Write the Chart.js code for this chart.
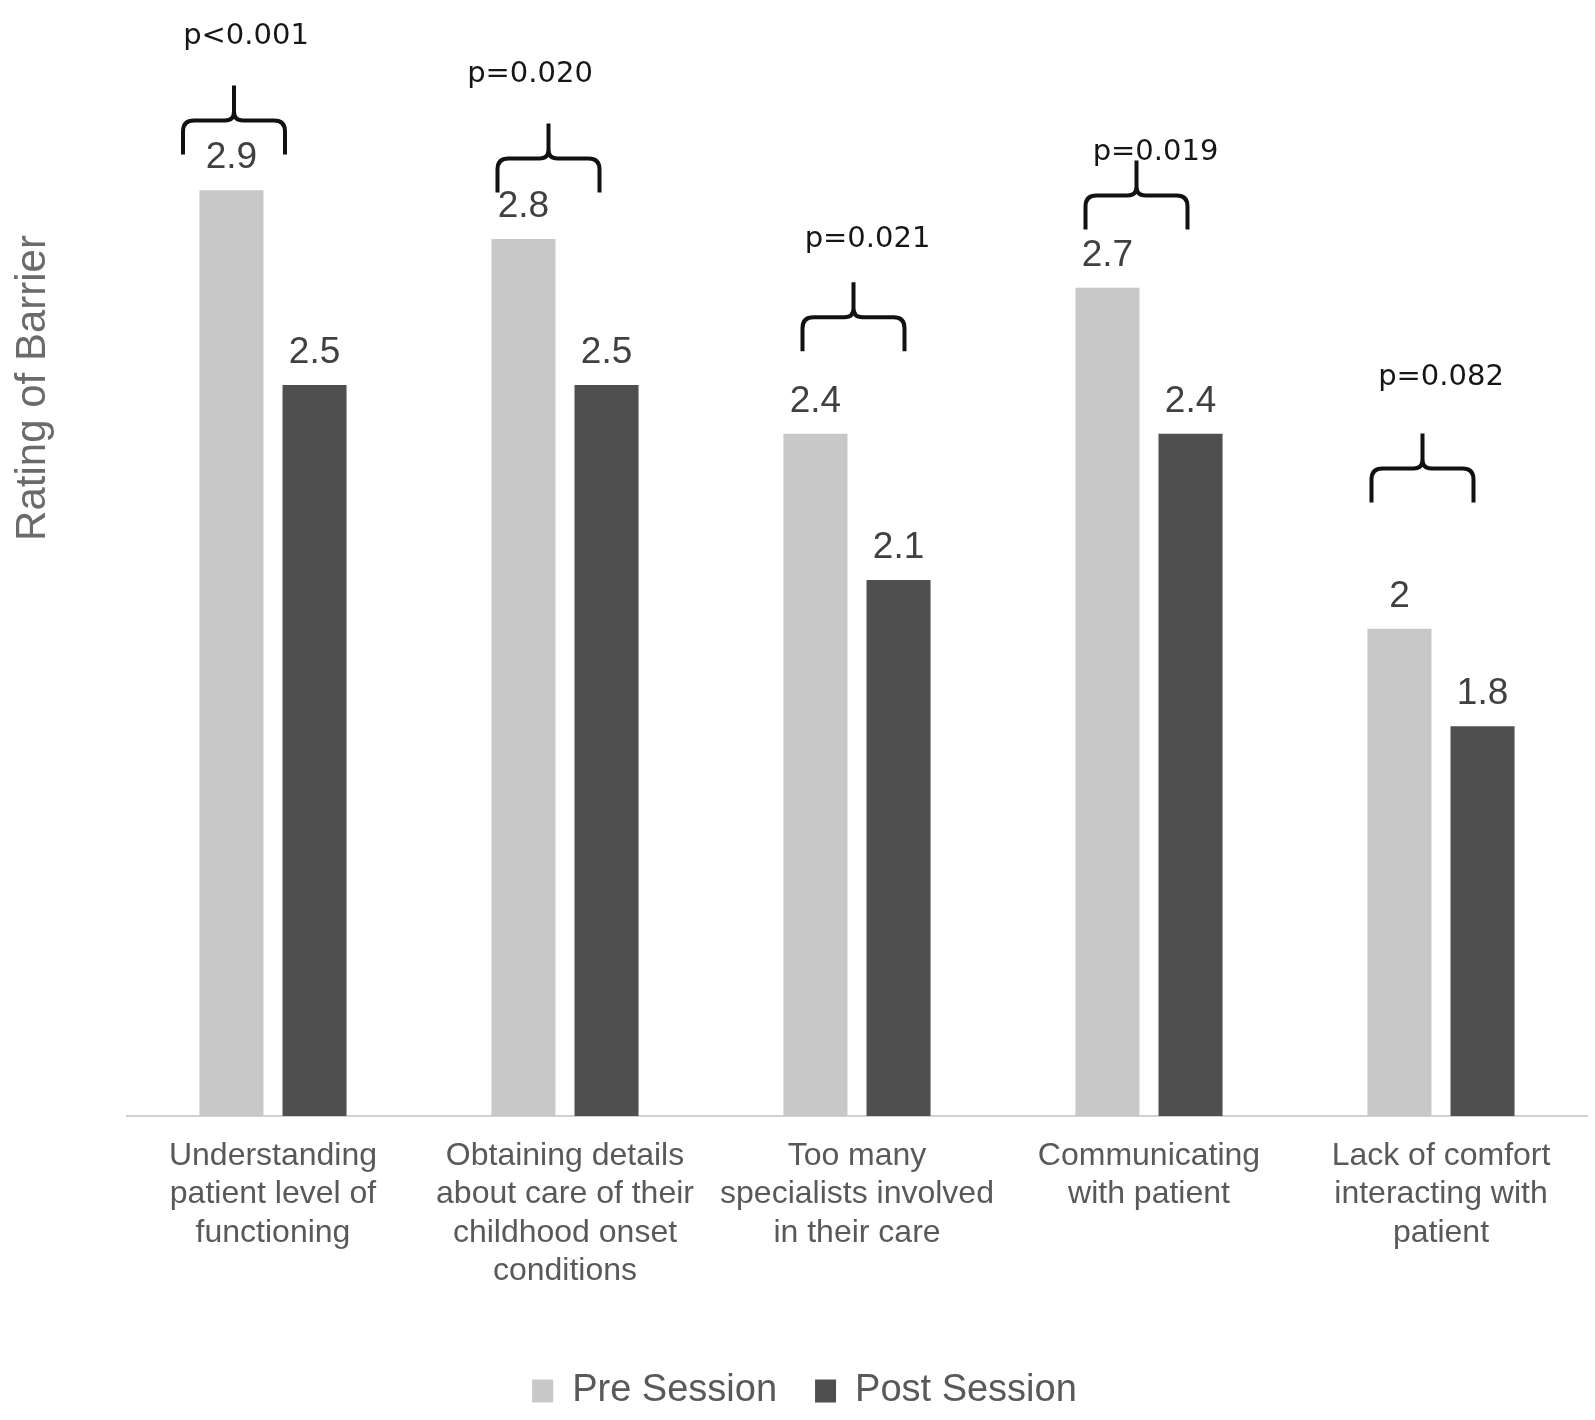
<!DOCTYPE html>
<html>
<head>
<meta charset="utf-8">
<script src="https://cdn.jsdelivr.net/npm/chart.js@4.4.1/dist/chart.umd.min.js"></script>
<style>
html,body{margin:0;padding:0;background:#ffffff;}
#wrap{width:1595px;height:1420px;position:relative;}
</style>
</head>
<body>
<div id="wrap"><canvas id="c"></canvas></div>
<script>
// ---- data ----
const categories = [
  ["Understanding", "patient level of", "functioning"],
  ["Obtaining details", "about care of their", "childhood onset", "conditions"],
  ["Too many", "specialists involved", "in their care"],
  ["Communicating", "with patient"],
  ["Lack of comfort", "interacting with", "patient"]
];
const seriesNames = ["Pre Session", "Post Session"];
const preSession = [2.9, 2.8, 2.4, 2.7, 2];
const postSession = [2.5, 2.5, 2.1, 2.4, 1.8];
const pValues = ["p<0.001", "p=0.020", "p=0.021", "p=0.019", "p=0.082"];
const yAxisTitle = "Rating of Barrier";

// ---- annotation layout (levels in axis units, offsets in px from category centre) ----
const annotationLayout = {
  braceLevel: [3.043, 2.965, 2.639, 2.889, 2.329],
  braceDx: [-39, -16.5, -3.5, -12.5, -18.5],
  textLevel: [3.201, 3.121, 2.783, 2.961, 2.50],
  textDx: [-27, -35, 10.5, 6.5, 0]
};

const FONT = '"Liberation Sans", Arial, Helvetica, sans-serif';

const annotPlugin = {
  id: 'annot',
  afterDatasetsDraw(chart) {
    const ctx = chart.ctx;
    const xs = chart.scales.x, ys = chart.scales.y;
    ctx.save();
    // value labels above bars
    ctx.font = '37px ' + FONT;
    ctx.fillStyle = '#404040';
    ctx.textAlign = 'center';
    ctx.textBaseline = 'alphabetic';
    chart.data.datasets.forEach((ds, di) => {
      chart.getDatasetMeta(di).data.forEach((bar, i) => {
        ctx.fillText(String(ds.data[i]), bar.x, bar.y - 22);
      });
    });
    // braces + p values
    const L = annotationLayout;
    ctx.strokeStyle = '#111111';
    ctx.lineWidth = 4;
    ctx.lineJoin = 'round';
    ctx.lineCap = 'butt';
    pValues.forEach((p, i) => {
      const c = xs.getPixelForValue(i);
      const cx = c + L.braceDx[i];
      const hy = ys.getPixelForValue(L.braceLevel[i]);
      const half = 51, drop = 34, rise = 35, r = 11, m = 9;
      ctx.beginPath();
      ctx.moveTo(cx - half, hy + drop);
      ctx.lineTo(cx - half, hy + r);
      ctx.quadraticCurveTo(cx - half, hy, cx - half + r, hy);
      ctx.lineTo(cx - m, hy);
      ctx.quadraticCurveTo(cx, hy, cx, hy - m);
      ctx.lineTo(cx, hy - rise);
      ctx.moveTo(cx, hy - m);
      ctx.quadraticCurveTo(cx, hy, cx + m, hy);
      ctx.lineTo(cx + half - r, hy);
      ctx.quadraticCurveTo(cx + half, hy, cx + half, hy + r);
      ctx.lineTo(cx + half, hy + drop);
      ctx.stroke();
      ctx.font = '29px "DejaVu Sans", sans-serif';
      ctx.fillStyle = '#161616';
      ctx.fillText(p, c + L.textDx[i], ys.getPixelForValue(L.textLevel[i]));
    });
    ctx.restore();
  },
  afterDraw(chart) {
    const ctx = chart.ctx;
    ctx.save();
    ctx.translate(45, 388);
    ctx.rotate(-Math.PI / 2);
    ctx.font = '42px ' + FONT;
    ctx.fillStyle = '#6b6b6b';
    ctx.textAlign = 'center';
    ctx.textBaseline = 'alphabetic';
    ctx.fillText(yAxisTitle, 0, 0);
    ctx.restore();
  }
};

new Chart(document.getElementById('c'), {
  type: 'bar',
  data: {
    labels: categories,
    datasets: [
      { label: seriesNames[0], data: preSession, backgroundColor: '#c8c8c8', borderWidth: 0 },
      { label: seriesNames[1], data: postSession, backgroundColor: '#4f4f4f', borderWidth: 0 }
    ]
  },
  options: {
    responsive: true,
    maintainAspectRatio: false,
    devicePixelRatio: 1,
    animation: false,
    categoryPercentage: 0.569,
    barPercentage: 0.771,
    layout: { padding: { left: 22, right: 8, top: 44, bottom: 0 } },
    plugins: {
      tooltip: { enabled: false },
      title: { display: false },
      legend: {
        display: true,
        position: 'bottom',
        labels: {
          color: '#595959',
          font: { family: FONT, size: 38 },
          boxWidth: 21,
          boxHeight: 23,
          padding: 38
        }
      }
    },
    scales: {
      x: {
        offset: true,
        grid: { display: false, drawTicks: false },
        border: { display: true, color: '#d0d0d0', width: 2 },
        ticks: {
          color: '#595959',
          font: { family: FONT, size: 32, lineHeight: 1.2 },
          padding: 21,
          maxRotation: 0,
          minRotation: 0,
          autoSkip: false
        },
        afterFit(s) { s.height = 218; }
      },
      y: {
        min: 1,
        max: 3.2,
        grid: { display: false, drawTicks: false },
        border: { display: false },
        ticks: { display: false },
        afterFit(s) { s.width = 105; }
      }
    }
  },
  plugins: [annotPlugin]
});
</script>
</body>
</html>
